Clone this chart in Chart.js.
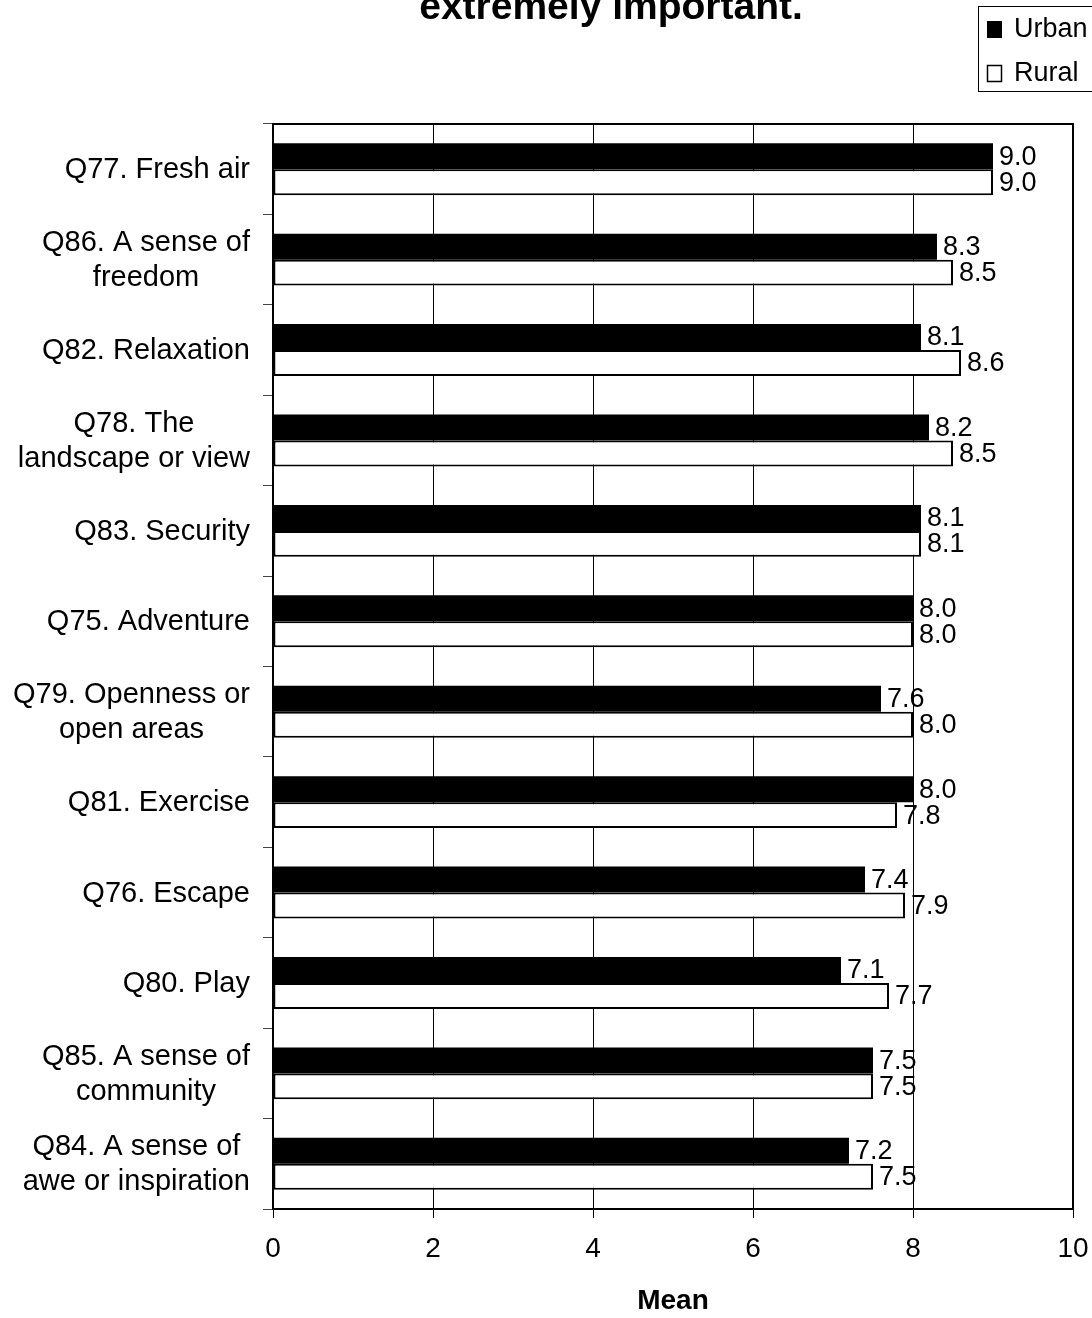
<!DOCTYPE html>
<html>
<head>
<meta charset="utf-8">
<title>Mean importance: Urban vs Rural</title>
<script src="https://cdn.jsdelivr.net/npm/chart.js@4/dist/chart.umd.min.js"></script>
<style>
  html, body { margin: 0; padding: 0; background: #fff; }
  canvas { display: block; }
</style>
</head>
<body>
<canvas id="meanChart" width="1092" height="1318"></canvas>
<script>
// categories (top to bottom), multi-line where the label wraps
const categories = [
  ["Q77. Fresh air"],
  ["Q86. A sense of", "freedom"],
  ["Q82. Relaxation"],
  ["Q78. The", "landscape or view"],
  ["Q83. Security"],
  ["Q75. Adventure"],
  ["Q79. Openness or", "open areas"],
  ["Q81. Exercise"],
  ["Q76. Escape"],
  ["Q80. Play"],
  ["Q85. A sense of", "community"],
  ["Q84. A sense of", "awe or inspiration"]
];

const urbanMeans = [9.0, 8.3, 8.1, 8.2, 8.1, 8.0, 7.6, 8.0, 7.4, 7.1, 7.5, 7.2];
const ruralMeans = [9.0, 8.5, 8.6, 8.5, 8.1, 8.0, 8.0, 7.8, 7.9, 7.7, 7.5, 7.5];

const xMin = 0;
const xMax = 10;
const xStep = 2;

const titleText = "extremely important.";
const axisTitle = "Mean";
const seriesNames = ["Urban", "Rural"];

const FONT = "'Liberation Sans', Arial, Helvetica, sans-serif";

// value labels at the end of each bar
const valueLabels = {
  id: "valueLabels",
  afterDatasetsDraw(chart) {
    const ctx = chart.ctx;
    ctx.save();
    ctx.font = "27px " + FONT;
    ctx.fillStyle = "#000";
    ctx.textAlign = "left";
    ctx.textBaseline = "middle";
    chart.data.datasets.forEach((ds, di) => {
      const meta = chart.getDatasetMeta(di);
      meta.data.forEach((bar, i) => {
        ctx.fillText(ds.data[i].toFixed(1), bar.x + 6, bar.y + 1);
      });
    });
    ctx.restore();
  }
};

// frame, title, legend and the wrapped category labels
const decorations = {
  id: "decorations",
  afterDraw(chart) {
    const ctx = chart.ctx;
    const area = chart.chartArea;
    ctx.save();

    // plot frame
    ctx.strokeStyle = "#000";
    ctx.lineWidth = 2;
    ctx.strokeRect(area.left, area.top, area.right - area.left, area.bottom - area.top);

    // title (last line)
    ctx.fillStyle = "#000";
    ctx.font = "bold 39px " + FONT;
    ctx.textAlign = "center";
    ctx.textBaseline = "alphabetic";
    ctx.fillText(titleText, 611, 19);

    // legend box
    ctx.lineWidth = 1;
    ctx.strokeRect(978.5, 6.5, 140, 85);
    ctx.font = "27px " + FONT;
    ctx.textAlign = "left";
    ctx.textBaseline = "middle";
    ctx.fillRect(987, 21, 15, 17);
    ctx.fillText(seriesNames[0], 1014, 30);
    ctx.lineWidth = 1.5;
    ctx.strokeRect(987.5, 65.5, 14, 16);
    ctx.fillText(seriesNames[1], 1014, 74);

    // category labels: block right-aligned to the axis, lines centred
    const yScale = chart.scales.y;
    ctx.font = "29px " + FONT;
    ctx.textAlign = "center";
    const lineH = 35;
    const rightEdge = 250;
    categories.forEach((lines, i) => {
      const cy = yScale.getPixelForTick(i);
      const w = Math.max(...lines.map(l => ctx.measureText(l).width));
      const cx = rightEdge - w / 2;
      const y0 = cy - (lines.length - 1) * lineH / 2;
      lines.forEach((l, k) => ctx.fillText(l, cx, y0 + k * lineH + 1));
    });

    ctx.restore();
  }
};

new Chart(document.getElementById("meanChart"), {
  type: "bar",
  data: {
    labels: categories,
    datasets: [
      {
        label: seriesNames[0],
        data: urbanMeans,
        backgroundColor: "#000",
        borderWidth: 0
      },
      {
        label: seriesNames[1],
        data: ruralMeans,
        backgroundColor: "#fff",
        borderColor: "#000",
        borderWidth: 2,
        borderSkipped: false
      }
    ]
  },
  options: {
    indexAxis: "y",
    responsive: false,
    devicePixelRatio: 1,
    animation: false,
    layout: { padding: { top: 124, right: 19, left: 0, bottom: 0 } },
    datasets: { bar: { categoryPercentage: 0.575, barPercentage: 1.0 } },
    plugins: {
      legend: { display: false },
      title: { display: false },
      tooltip: { enabled: false }
    },
    scales: {
      x: {
        min: xMin,
        max: xMax,
        ticks: {
          stepSize: xStep,
          color: "#000",
          font: { family: FONT, size: 28 },
          padding: 14
        },
        grid: {
          color: "#000",
          lineWidth: 1,
          drawTicks: true,
          tickLength: 9,
          tickColor: "#000"
        },
        border: { color: "#000", width: 2 },
        title: {
          display: true,
          text: axisTitle,
          color: "#000",
          font: { family: FONT, size: 28, weight: "bold" },
          padding: { top: 0, bottom: 0 }
        },
        afterFit(scale) {
          scale.height = 109;
          scale.paddingLeft = 0;
          scale.paddingRight = 0;
        }
      },
      y: {
        ticks: { display: false },
        grid: {
          offset: true,
          drawOnChartArea: false,
          drawTicks: true,
          tickLength: 10,
          tickColor: "#444",
          lineWidth: 1
        },
        border: { color: "#000", width: 2 },
        afterFit(scale) {
          scale.width = 273;
          scale.paddingTop = 0;
          scale.paddingBottom = 0;
        }
      }
    }
  },
  plugins: [valueLabels, decorations]
});
</script>
</body>
</html>
